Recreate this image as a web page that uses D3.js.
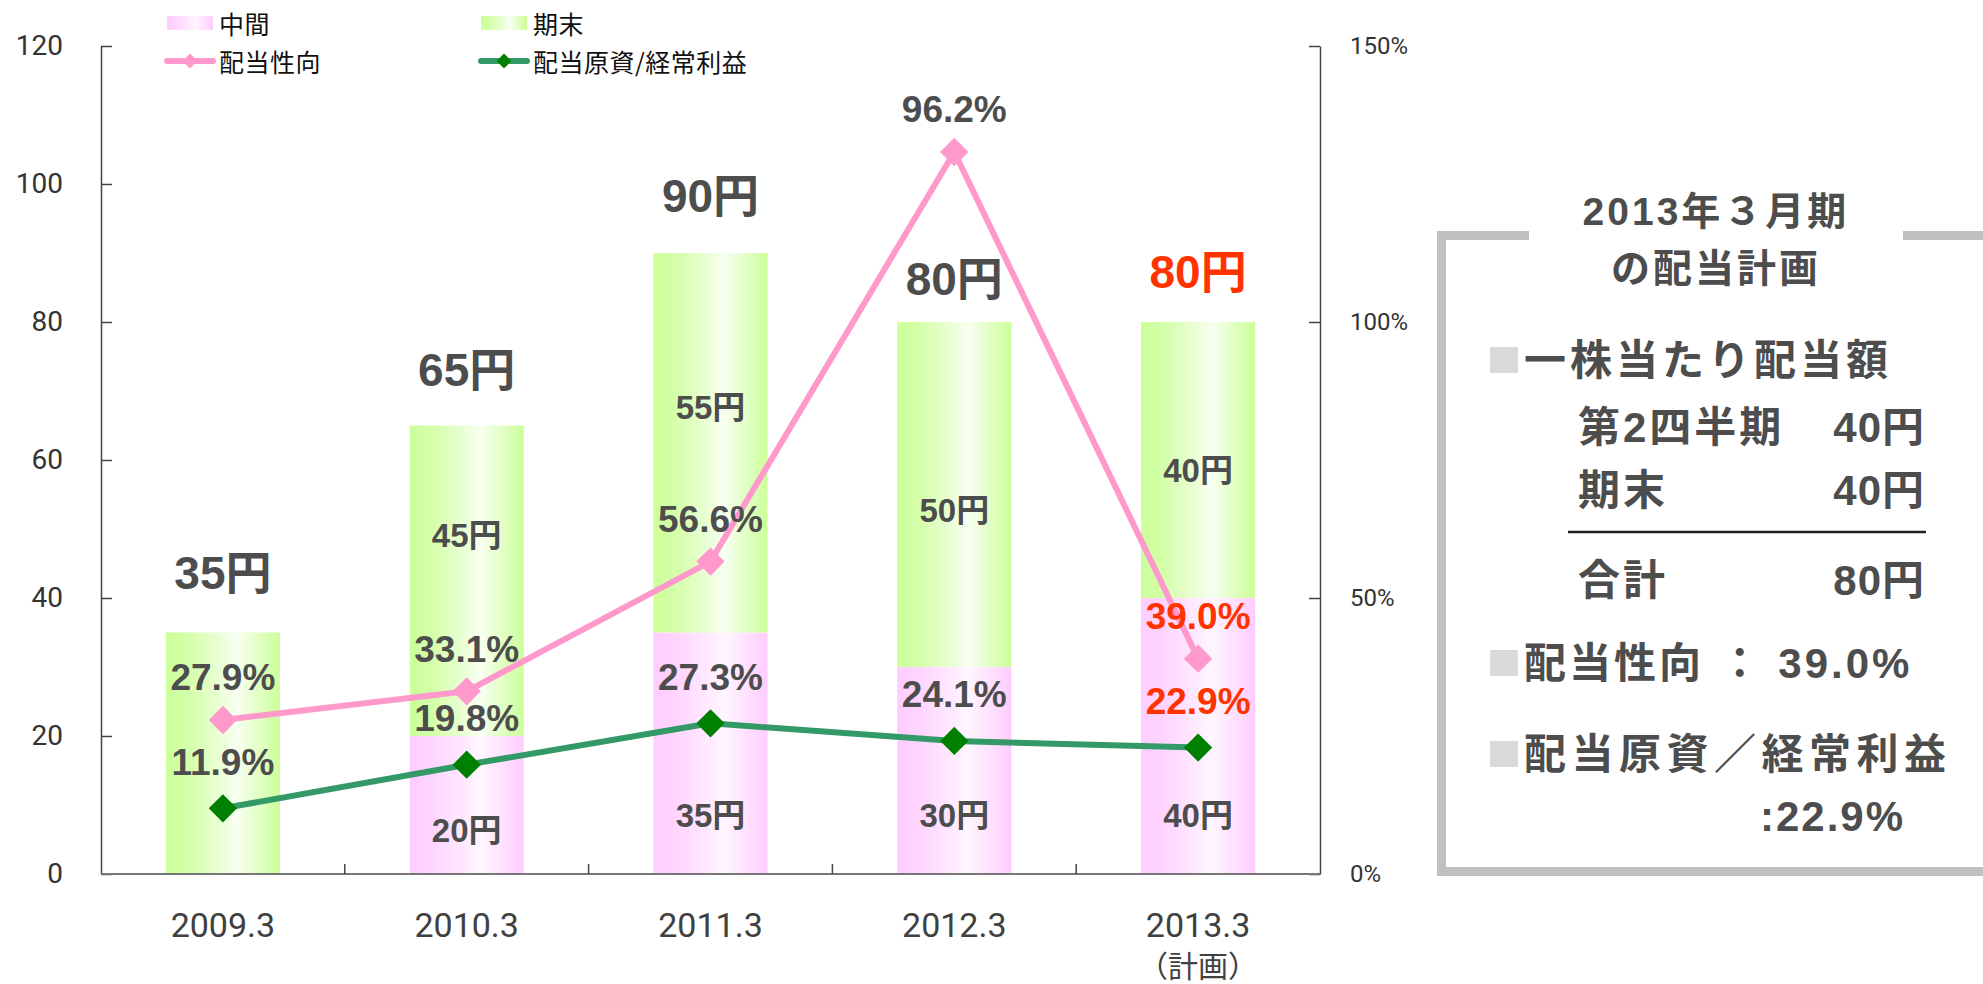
<!DOCTYPE html>
<html lang="ja">
<head>
  <meta charset="UTF-8" />
  <title>配当推移</title>
  <script src="https://d3js.org/d3.v7.min.js"></script>
  <style>
    body { margin: 0; background: #fff; }
    svg { display: block; }
    .tick text { fill: #333; font-family: Roboto, 'Noto Sans CJK JP', sans-serif; }
    .lbl { font-family: 'Liberation Sans', 'Noto Sans CJK JP', sans-serif; font-weight: bold; fill: #4d4d4d; }
    .panel { font-family: 'Liberation Sans', 'Noto Sans CJK JP', sans-serif; font-weight: bold; fill: #4d4d4d; }
  </style>
</head>
<body>
<svg id="chart" width="1983" height="984"></svg>
<script>
// data
const categories = ["2009.3", "2010.3", "2011.3", "2012.3", "2013.3"];
const categorySub = ["", "", "", "", "（計画）"];
const interim = [0, 20, 35, 30, 40];        // 中間
const yearEnd = [35, 45, 55, 50, 40];       // 期末
const payoutRatio = [27.9, 33.1, 56.6, 130.8, 39.0];   // 配当性向 (plotted)
const payoutLabels = ["27.9%", "33.1%", "56.6%", "96.2%", "39.0%"];
const fundRatio = [11.9, 19.8, 27.3, 24.1, 22.9];       // 配当原資/経常利益
const leftTicks = [0, 20, 40, 60, 80, 100, 120];
const rightTicks = [0, 50, 100, 150];

// hand placed label nudges (px), as in the original slide
const totalLift = [60, 56, 57, 43, 50];
const yearEndShift = [0, -45, -35, 16, 10];
const interimShift = [0, 15, 0, 0, 0];

const red = "#ff3300";
const svg = d3.select("#chart");

const plotLeft = 101, plotRight = 1320, plotTop = 46, plotBottom = 874;

const x = d3.scaleBand().domain(categories).range([plotLeft, plotRight])
  .paddingInner(0.532).paddingOuter(0.266);
const y = d3.scaleLinear().domain([0, 120]).range([plotBottom, plotTop]);
const yR = d3.scaleLinear().domain([0, 150]).range([plotBottom, plotTop]);
const cx = d => x(d) + x.bandwidth() / 2;

// gradients for bars
const defs = svg.append("defs");
function grad(id, edge, mid) {
  const g = defs.append("linearGradient").attr("id", id)
    .attr("x1", "0%").attr("x2", "100%").attr("y1", "0%").attr("y2", "0%");
  g.append("stop").attr("offset", "0%").attr("stop-color", edge);
  g.append("stop").attr("offset", "18%").attr("stop-color", edge).attr("stop-opacity", 0.85);
  g.append("stop").attr("offset", "62%").attr("stop-color", mid);
  g.append("stop").attr("offset", "100%").attr("stop-color", edge);
}
grad("gGreen", "#ccff99", "#f8fff2");
grad("gPink", "#ffccff", "#fff6ff");

// bars
svg.append("g").selectAll("rect").data(categories).join("rect")
  .attr("x", d => x(d)).attr("width", x.bandwidth())
  .attr("y", (d, i) => y(interim[i])).attr("height", (d, i) => y(0) - y(interim[i]))
  .attr("fill", "url(#gPink)");
svg.append("g").selectAll("rect").data(categories).join("rect")
  .attr("x", d => x(d)).attr("width", x.bandwidth())
  .attr("y", (d, i) => y(interim[i] + yearEnd[i]))
  .attr("height", (d, i) => y(interim[i]) - y(interim[i] + yearEnd[i]))
  .attr("fill", "url(#gGreen)");

// axes
const yAxis = d3.axisLeft(y).tickValues(leftTicks).tickSizeInner(-11).tickSizeOuter(0).tickPadding(38);
svg.append("g").attr("transform", `translate(${plotLeft},0)`).call(yAxis)
  .call(g => g.selectAll("text").style("font-size", "28px"))
  .call(g => g.selectAll("line, path").attr("stroke", "#444").attr("stroke-width", 1.5));

const yAxisR = d3.axisRight(yR).tickValues(rightTicks).tickFormat(d => d + "%")
  .tickSizeInner(-11).tickSizeOuter(0).tickPadding(30);
svg.append("g").attr("transform", `translate(${plotRight},0)`).call(yAxisR)
  .call(g => g.selectAll("text").style("font-size", "24px"))
  .call(g => g.selectAll("line, path").attr("stroke", "#444").attr("stroke-width", 1.5));

// x axis: baseline plus inner ticks on slot boundaries
const step = x.step();
svg.append("line").attr("x1", plotLeft).attr("x2", plotRight).attr("y1", plotBottom).attr("y2", plotBottom)
  .attr("stroke", "#777").attr("stroke-width", 2);
svg.append("g").selectAll("line").data(d3.range(1, categories.length)).join("line")
  .attr("x1", i => plotLeft + i * step).attr("x2", i => plotLeft + i * step)
  .attr("y1", plotBottom).attr("y2", plotBottom - 10).attr("stroke", "#444").attr("stroke-width", 1.5);
const xl = svg.append("g").style("font-family", "Roboto, 'Noto Sans CJK JP', sans-serif")
  .style("font-size", "34px").attr("fill", "#404040").attr("text-anchor", "middle");
xl.selectAll("text.cat").data(categories).join("text").attr("class", "cat")
  .attr("x", cx).attr("y", 937).text(d => d);
xl.selectAll("text.sub").data(categories).join("text").attr("class", "sub")
  .attr("x", cx).attr("y", 977).style("font-size", "30px").text((d, i) => categorySub[i]);

// lines
const diamond = d3.symbol(d3.symbolSquare, 400);
function series(vals, color, marker) {
  const line = d3.line().x((d, i) => cx(categories[i])).y(d => yR(d));
  svg.append("path").datum(vals).attr("d", line).attr("fill", "none")
    .attr("stroke", color).attr("stroke-width", 6).attr("stroke-linejoin", "round");
  svg.append("g").selectAll("path").data(vals).join("path")
    .attr("d", diamond)
    .attr("transform", (d, i) => `translate(${cx(categories[i])},${yR(d)}) rotate(45)`)
    .attr("fill", marker);
}
series(payoutRatio, "#ff99cc", "#ff99cc");
series(fundRatio, "#339966", "#008000");

// labels
const lab = svg.append("g").attr("class", "lbl").attr("text-anchor", "middle")
  .attr("dominant-baseline", "central");
const last = categories.length - 1;
lab.selectAll("text.tot").data(categories).join("text").attr("class", "tot")
  .attr("x", cx).attr("y", (d, i) => y(interim[i] + yearEnd[i]) - totalLift[i])
  .style("font-size", "46px").style("fill", (d, i) => i === last ? red : null)
  .text((d, i) => (interim[i] + yearEnd[i]) + "円");
lab.selectAll("text.ye").data(categories.filter((d, i) => i > 0)).join("text").attr("class", "ye")
  .attr("x", cx).attr("y", d => {
    const i = categories.indexOf(d);
    return y(interim[i] + yearEnd[i] / 2) + yearEndShift[i];
  })
  .style("font-size", "33px").text(d => yearEnd[categories.indexOf(d)] + "円");
lab.selectAll("text.im").data(categories.filter((d, i) => interim[i] > 0)).join("text").attr("class", "im")
  .attr("x", cx).attr("y", d => y(8.5) + interimShift[categories.indexOf(d)])
  .style("font-size", "33px").text(d => interim[categories.indexOf(d)] + "円");
lab.selectAll("text.pr").data(categories).join("text").attr("class", "pr")
  .attr("x", cx).attr("y", (d, i) => yR(payoutRatio[i]) - 42)
  .style("font-size", "37px").style("fill", (d, i) => i === last ? red : null)
  .text((d, i) => payoutLabels[i]);
lab.selectAll("text.fr").data(categories).join("text").attr("class", "fr")
  .attr("x", cx).attr("y", (d, i) => yR(fundRatio[i]) - 46)
  .style("font-size", "37px").style("fill", (d, i) => i === last ? red : null)
  .text((d, i) => fundRatio[i].toFixed(1) + "%");

// legend
const legend = svg.append("g").style("font-family", "'Noto Sans CJK JP', sans-serif")
  .style("font-size", "25px").attr("fill", "#111");
const legendItems = [
  { name: "中間", type: "bar", fill: "url(#gPink)", col: 0, row: 0 },
  { name: "期末", type: "bar", fill: "url(#gGreen)", col: 1, row: 0 },
  { name: "配当性向", type: "line", stroke: "#ff99cc", fill: "#ff99cc", col: 0, row: 1 },
  { name: "配当原資/経常利益", type: "line", stroke: "#339966", fill: "#008000", col: 1, row: 1 }
];
legendItems.forEach(it => {
  const lx = it.col === 0 ? 167 : 481, ly = it.row === 0 ? 23 : 61;
  if (it.type === "bar") {
    legend.append("rect").attr("x", lx).attr("y", ly - 7).attr("width", 46).attr("height", 14).attr("fill", it.fill);
  } else {
    legend.append("line").attr("x1", lx).attr("x2", lx + 46).attr("y1", ly).attr("y2", ly)
      .attr("stroke", it.stroke).attr("stroke-width", 6).attr("stroke-linecap", "round");
    legend.append("path").attr("d", d3.symbol(d3.symbolSquare, 110))
      .attr("transform", `translate(${lx + 23},${ly}) rotate(45)`).attr("fill", it.fill);
  }
  legend.append("text").attr("x", lx + 52).attr("y", ly).attr("dominant-baseline", "central")
    .style("letter-spacing", "0.5px").text(it.name);
});

// right-hand panel
const panelTitle = ["2013年３月期", "の配当計画"];
const planRows = [["第2四半期", "40円"], ["期末", "40円"], ["合計", "80円"]];
const panel = svg.append("g");
panel.append("path")
  .attr("d", "M1529,235.5 H1441.5 V871.5 H1983 M1903,235.5 H1983")
  .attr("fill", "none").attr("stroke", "#c0c0c0").attr("stroke-width", 9);

const pt = panel.append("g").attr("class", "panel");
pt.selectAll("text.t").data(panelTitle).join("text").attr("class", "t")
  .attr("x", 1716).attr("y", (d, i) => 211 + i * 57).attr("text-anchor", "middle")
  .attr("dominant-baseline", "central").style("font-size", "39px").style("letter-spacing", "3px")
  .text(d => d);

function bullet(yy) {
  panel.append("rect").attr("x", 1490).attr("y", yy - 13).attr("width", 28).attr("height", 26).attr("fill", "#d9d9d9");
}
function ptext(xx, yy, s, anchor, ls) {
  return pt.append("text").attr("x", xx).attr("y", yy).attr("text-anchor", anchor || "start")
    .attr("dominant-baseline", "central").style("font-size", "42px")
    .style("letter-spacing", (ls == null ? 3 : ls) + "px").text(s);
}
bullet(360); ptext(1524, 360, "一株当たり配当額", "start", 4);
planRows.forEach((r, i) => {
  const yy = [427, 490, 580][i];
  ptext(1578, yy, r[0]);
  ptext(1925, yy, r[1], "end", 1);
});
panel.append("line").attr("x1", 1568).attr("x2", 1926).attr("y1", 532).attr("y2", 532)
  .attr("stroke", "#222").attr("stroke-width", 2.5);
bullet(663); ptext(1524, 663, "配当性向 ： 39.0%", "start", 3);
bullet(754); ptext(1524, 754, "配当原資／経常利益", "start", 5.5);
ptext(1905, 816, ":22.9%", "end", 2);
</script>
</body>
</html>
